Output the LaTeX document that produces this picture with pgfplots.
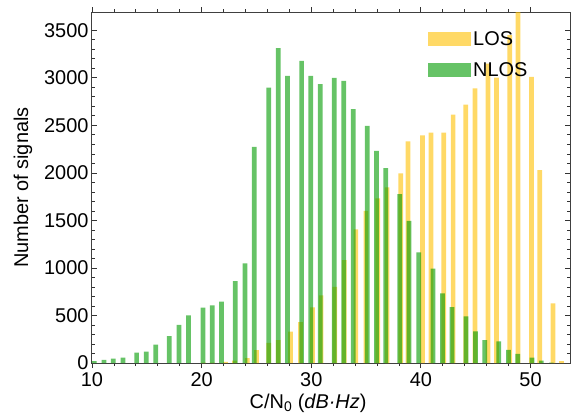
\documentclass[border=0pt]{standalone}
\usepackage{fontspec}
\setmainfont{Liberation Sans}
\usepackage{pgfplots}
\pgfplotsset{compat=1.18}
\definecolor{losc}{RGB}{255,192,0}
\definecolor{nlosc}{RGB}{0,155,0}
\begin{document}
\begin{tikzpicture}
\begin{axis}[
  width=478bp, height=350.7bp, scale only axis,
  xmin=10, xmax=53.6, ymin=0, ymax=3690,
  xtick={10,20,30,40,50}, minor x tick num=4,
  ytick={0,500,1000,1500,2000,2500,3000,3500}, minor y tick num=4,
  tick align=inside, tick pos=both,
  major tick length=5bp, minor tick length=3bp,
  axis line style={black!75, line width=1bp},
  tick style={black!80, line width=0.8bp},
  ticklabel style={font=\fontsize{20}{24}\selectfont},
  xticklabel style={yshift=-1.5bp},
  label style={font=\fontsize{20}{24}\selectfont},
  /pgf/number format/assume math mode=true,
  /pgf/number format/1000 sep={},
  xlabel={C/N\textsubscript{0} (\textit{dB·Hz})},
  ylabel={Number of signals},
  ylabel shift=5bp,
  xlabel style={at={(ticklabel cs:0.452)}, anchor=north},
  ybar, bar width=0.43,
  legend cell align=left,
  legend style={at={(0.703,0.952)}, anchor=north west, draw=none, fill=none,
    inner sep=0pt, row sep=12bp, font=\fontsize{20}{24}\selectfont},
  legend image code/.code={\fill[#1] (0bp,-7bp) rectangle (43bp,7bp);},
]
\addplot[bar shift=0pt, fill=losc, fill opacity=0.6, draw=none] coordinates {
(20.18,5) (21.0,5) (22.17,12) (22.99,25) (24.16,50) (25.01,135) (26.13,213) (26.98,242)
(28.11,330) (29.02,430) (30.12,585) (30.90,711) (32.15,802) (33.0,1083) (34.07,1405)
(34.98,1601) (36.07,1731) (36.92,1847) (38.17,1994) (38.83,2333) (40.15,2396) (40.93,2425)
(42.09,2425) (42.94,2614) (44.09,2719) (44.94,2890) (46.13,3150) (46.89,3003) (48.10,3450)
(48.86,3800) (50.08,3010) (50.84,2029) (52.05,627) (52.82,20)
};
\addlegendentry{LOS}
\addplot[bar shift=0pt, fill=nlosc, fill opacity=0.6, draw=none] coordinates {
(10.21,21) (11.09,32) (11.94,46) (12.83,56) (14.07,108) (14.95,119) (15.81,193) (17.05,284)
(17.93,400) (18.81,501) (20.12,582) (20.97,606) (21.82,645) (23.06,862) (23.95,1048)
(24.79,2273) (26.13,2898) (26.98,3314) (27.84,3020) (29.12,3178) (29.96,3020) (30.81,2933)
(32.09,2999) (32.97,2968) (33.82,2670) (35.10,2495) (35.95,2232) (36.80,2050) (38.08,1776)
(38.92,1496) (39.81,1163) (41.11,992) (41.97,733) (42.84,589) (44.12,491) (44.98,333)
(45.82,242) (47.10,228) (47.99,137) (48.83,95) (50.14,56) (50.99,24) (51.90,5)
};
\addlegendentry{NLOS}
\end{axis}
\path (current axis.south west) +(-92bp,-57bp) (current axis.north east) +(2bp,12.3bp);
\end{tikzpicture}
\end{document}
